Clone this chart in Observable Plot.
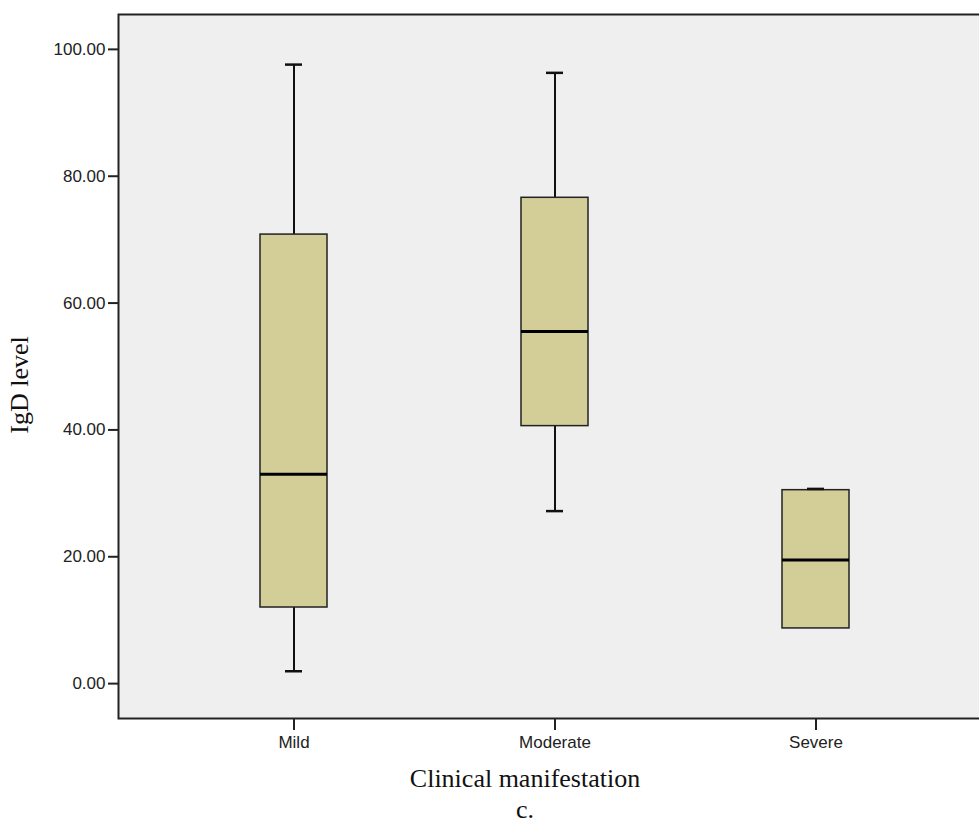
<!DOCTYPE html>
<html><head><meta charset="utf-8">
<script src="https://cdn.jsdelivr.net/npm/d3@7"></script>
<script src="https://cdn.jsdelivr.net/npm/@observablehq/plot@0.6"></script>
<style>
html,body{margin:0;padding:0;background:#fff;}
#wrap{position:relative;width:979px;height:826px;overflow:hidden;background:#fff;}
#wrap > svg{display:block;}
#labels{position:absolute;left:0;top:0;pointer-events:none;}
</style></head><body>
<div id="wrap"></div>
<script>
const categories = ["Mild", "Moderate", "Severe"];
const minVals    = [1.95, 27.2, 8.7];
const q1Vals     = [12.0, 40.6, 8.7];
const medianVals = [33.0, 55.5, 19.5];
const q3Vals     = [70.8, 76.6, 30.5];
const maxVals    = [97.6, 96.3, 30.7];
const yTicks     = [0, 20, 40, 60, 80, 100];
const yLabel = "IgD level";
const xLabel = "Clinical manifestation";
const panelLabel = "c.";

const rows = categories.map((c, i) => ({
  cat: c, min: minVals[i], q1: q1Vals[i], median: medianVals[i], q3: q3Vals[i], max: maxVals[i]
}));

const chart = Plot.plot({
  width: 979, height: 760,
  marginTop: 14, marginBottom: 42, marginLeft: 118, marginRight: -2,
  style: {fontFamily: "'Liberation Sans', Arial, sans-serif", fontSize: "17px", color: "#222", background: "#fff", overflow: "visible"},
  x: {type: "band", domain: categories, range: [259.5, 848.5], paddingInner: 0.7433, paddingOuter: 0, label: null},
  y: {domain: [-5.5, 105.5], label: null},
  marks: [
    Plot.frame({fill: "#efefef", stroke: "none"}),
    Plot.ruleX(rows, {x: "cat", y1: "min", y2: "q1", stroke: "#111", strokeWidth: 2}),
    Plot.ruleX(rows, {x: "cat", y1: "q3", y2: "max", stroke: "#111", strokeWidth: 2}),
    Plot.barY(rows, {x: "cat", y1: "q1", y2: "q3", fill: "#d3ce97", stroke: "#222", strokeWidth: 1.5}),
    Plot.tickY(rows, {x: "cat", y: "median", stroke: "#000", strokeWidth: 3}),
    Plot.tickY(rows.filter(d => d.min < d.q1), {x: "cat", y: "min", insetLeft: 25, insetRight: 25, stroke: "#111", strokeWidth: 2.5}),
    Plot.tickY(rows, {x: "cat", y: "max", insetLeft: 25, insetRight: 25, stroke: "#111", strokeWidth: 2.5}),
    Plot.frame({stroke: "#222", strokeWidth: 2}),
    Plot.axisY({ticks: yTicks, tickFormat: d => d.toFixed(2), tickSize: 10, tickPadding: 3, stroke: "#222", strokeWidth: 2, fill: "#222", label: null}),
    Plot.axisX({tickSize: 12, tickPadding: 5, stroke: "#222", strokeWidth: 2, fill: "#222", label: null})
  ]
});
document.getElementById("wrap").appendChild(chart);

const ns = "http://www.w3.org/2000/svg";
const ov = document.createElementNS(ns, "svg");
ov.setAttribute("id", "labels");
ov.setAttribute("width", 979);
ov.setAttribute("height", 826);
function addText(str, x, y, rot) {
  const t = document.createElementNS(ns, "text");
  t.textContent = str;
  t.setAttribute("text-anchor", "middle");
  t.setAttribute("font-family", "'Liberation Serif', 'Times New Roman', serif");
  t.setAttribute("font-size", "26");
  t.setAttribute("fill", "#111");
  if (rot) t.setAttribute("transform", `translate(${x},${y}) rotate(-90)`);
  else { t.setAttribute("x", x); t.setAttribute("y", y); }
  ov.appendChild(t);
}
addText(yLabel, 28, 385, true);
addText(xLabel, 525, 787, false);
addText(panelLabel, 525, 818, false);
document.getElementById("wrap").appendChild(ov);
</script>
</body></html>
